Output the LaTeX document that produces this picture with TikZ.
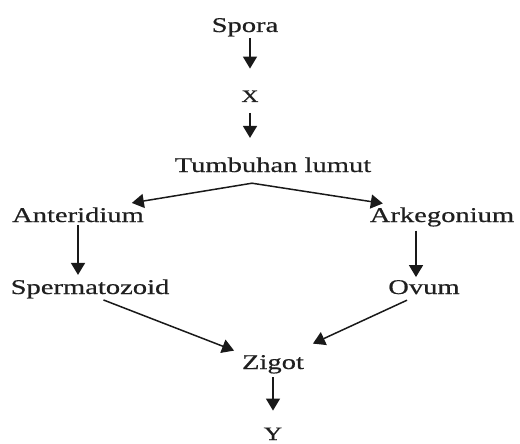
\documentclass[tikz,border=0pt]{standalone}
\usepackage{fontspec}
\setmainfont{Liberation Serif}[FakeStretch=1.36,FakeBold=0.6]
\usetikzlibrary{arrows.meta,calc}
\begin{document}
\begin{tikzpicture}[x=1pt,y=-1pt,
  lbl/.style={anchor=base,inner sep=0pt,outer sep=0pt,text=black!88,font=\fontsize{21pt}{25pt}\selectfont},
  xlbl/.style={lbl,font=\fontsize{17.5pt}{21pt}\selectfont},
  ylbl/.style={lbl,font=\fontsize{19pt}{23pt}\selectfont},
  arr/.style={line width=1.5pt,draw=black!90,-{Triangle[width=14pt,length=12pt]}}]
\useasboundingbox (0,0) rectangle (520,444);
\node[lbl] (spora) at (245,32) {Spora};
\node[xlbl] (x) at (250,102) {X};
\node[lbl] (tl) at (273,172) {Tumbuhan lumut};
\node[lbl] (ant) at (78,222) {Anteridium};
\node[lbl] (ark) at (442,222) {Arkegonium};
\node[lbl] (sperm) at (90,294) {Spermatozoid};
\node[lbl] (ovum) at (424,294) {Ovum};
\node[lbl] (zig) at (273,369) {Zigot};
\node[ylbl] (y) at (273,440) {Y};
\coordinate (apex) at ($(tl.south -| x.south)+(2,11)$);
\draw[arr,shorten <=1.5pt,shorten >=22pt] (spora.south -| x.north) -- (x.north);
\draw[arr,shorten <=11pt,shorten >=19.5pt] (x.south) -- (x.south |- tl.north);
\draw[arr] (apex) -- ([xshift=-12pt,yshift=4.5pt]ant.north east);
\draw[arr] (apex) -- ([xshift=13pt,yshift=4pt]ark.north west);
\draw[arr,shorten <=3pt,shorten >=4.5pt] (ant.south) -- (ant.south |- sperm.north);
\draw[arr] ([xshift=-26pt,yshift=-4pt]ark.south) -- ([xshift=-8pt,yshift=3pt]ovum.north);
\draw[arr] ([xshift=13.5pt,yshift=-1.5pt]sperm.south) -- ([xshift=-8pt,yshift=4.5pt]zig.north west);
\draw[arr] ([xshift=-17pt,yshift=-6pt]ovum.south) -- ([xshift=9pt,yshift=11.5pt]zig.north east);
\draw[arr,shorten <=3.5pt,shorten >=17pt] (zig.south) -- (y.north);
\end{tikzpicture}
\end{document}
